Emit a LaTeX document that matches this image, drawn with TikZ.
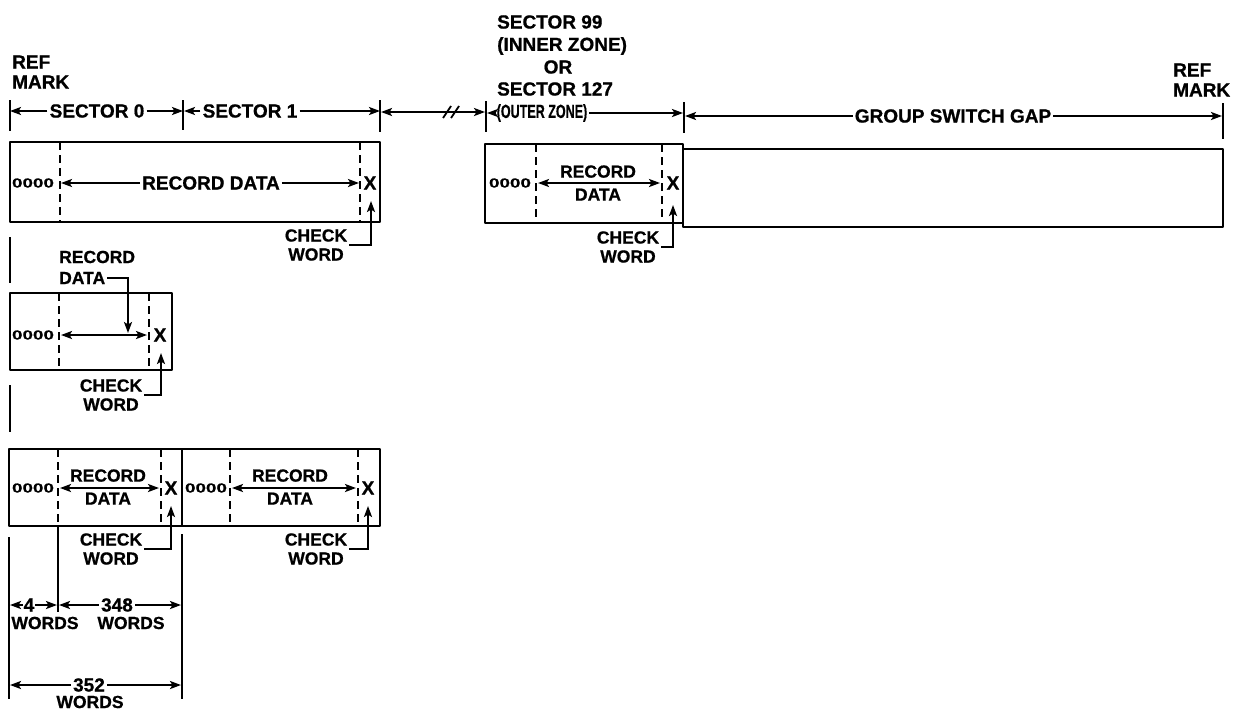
\documentclass[tikz,border=0pt]{standalone}
\usepackage{fontspec}
\setmainfont{Liberation Sans}[BoldFeatures={FakeBold=0.8}]
\usetikzlibrary{arrows.meta}
\newcommand\bigf{\fontsize{19}{20}\selectfont\bfseries}
\newcommand\smf{\fontsize{17.5}{19}\selectfont\bfseries}
\newcommand\zeros{\scalebox{1.45}[1]{\fontsize{13}{13}\selectfont\bfseries 0000}}
\begin{document}
\begin{tikzpicture}[x=1pt,y=-1pt,
  >={Stealth[length=11pt,width=8pt,inset=2.5pt]},
  lbl/.style={font=\bigf,inner xsep=2pt,inner ysep=0pt},
  slbl/.style={font=\smf,inner xsep=2pt,inner ysep=0pt},
  two/.style={align=center,font=\fontsize{17.5}{19}\selectfont\bfseries},
  rd/.style={align=center,font=\fontsize{17.5}{23}\selectfont\bfseries,inner xsep=1pt,inner ysep=0pt},
  box/.style={line width=2.8pt,line join=round},
  dim/.style={line width=2.1pt},
  dsh/.style={line width=2pt,dash pattern=on 8pt off 5pt},
  tick/.style={line width=2.3pt}]
\fill[white] (0,0) rectangle (1237,712);
\useasboundingbox (0,0) rectangle (1237,712);

% ---------- top dimension row ----------
\node[lbl,anchor=west,align=left,font=\fontsize{19}{20}\selectfont\bfseries] (refL) at (10,72) {REF\\MARK};
\node[lbl,anchor=west,align=left,font=\fontsize{19}{20}\selectfont\bfseries] (refR) at (1171,80) {REF\\MARK};

\coordinate (k0a) at (10,100);  \coordinate (k0b) at (10,131);
\coordinate (k1a) at (183,100); \coordinate (k1b) at (183,130);
\coordinate (k2a) at (380,100); \coordinate (k2b) at (380,132);
\coordinate (k3a) at (486,101); \coordinate (k3b) at (486,132);
\coordinate (k4a) at (684,102); \coordinate (k4b) at (684,133);
\coordinate (k5a) at (1223,103); \coordinate (k5b) at (1223,139);
\foreach \k in {0,...,5} \draw[tick] (k\k a) -- (k\k b);

\node[lbl] (s0) at (97,111) {SECTOR 0};
\node[lbl] (s1) at (250,111) {SECTOR 1};
\coordinate (a0) at (10,111);
\coordinate (a1l) at (183,111);
\coordinate (a1r) at (184,111);
\coordinate (a2) at (380,111);
\draw[dim,->] (s0.west) -- (a0);
\draw[dim,->] (s0.east) -- (a1l);
\draw[dim,->] (s1.west) -- (a1r);
\draw[dim,->] (s1.east) -- (a2);

\coordinate (g0) at (381,112);
\coordinate (g1) at (485,112);
\draw[dim,<->] (g0) -- (g1);
\draw[line width=1.8pt] (443,118) -- (451,106) (451,118) -- (459,106);

\node[lbl,anchor=west] (s99a) at (495,22) {SECTOR 99};
\node[lbl,anchor=west] (s99b) at (495,46) {(INNER ZONE)};
\node[lbl] (s99c) at (558,67) {OR};
\node[lbl,anchor=west] (s99d) at (495,89) {SECTOR 127};
\node[lbl] (s99e) at (542,113) {\scalebox{0.66}[1]{(OUTER ZONE)}};
\coordinate (o0) at (487,113);
\coordinate (o1) at (683,113);
\draw[dim,->] (s99e.west) -- (o0);
\draw[dim,->] (s99e.east) -- (o1);

\node[lbl] (gsg) at (953,116) {GROUP SWITCH GAP};
\coordinate (w0) at (685,116);
\coordinate (w1) at (1222,116);
\draw[dim,->] (gsg.west) -- (w0);
\draw[dim,->] (gsg.east) -- (w1);

% ---------- box 1 ----------
\draw[box] (10,142) rectangle (380,222);
\draw[dsh] (60,142) -- (60,222);
\draw[dsh] (360,142) -- (360,222);
\node[inner sep=0pt] (z1) at (33,183) {\zeros};
\node[lbl] (rd1) at (211,183) {RECORD DATA};
\coordinate (r1a) at (61,183);
\coordinate (r1b) at (359,183);
\draw[dim,->] (rd1.west) -- (r1a);
\draw[dim,->] (rd1.east) -- (r1b);
\node[lbl,inner xsep=0pt] (x1) at (370,183) {X};
\node[slbl,two] (ck1) at (316,245) {CHECK\\WORD};
\coordinate (c1) at (371,201);
\draw[dim,->] (ck1.east) -| (c1);

% ---------- box 2 ----------
\draw[box] (485,144) rectangle (683,223);
\draw[dsh] (536,144) -- (536,223);
\draw[dsh] (662,144) -- (662,223);
\node[inner sep=0pt] (z2) at (510,183) {\zeros};
\node[rd] (rd2) at (598,183) {RECORD\\DATA};
\coordinate (r2a) at (538,183);
\coordinate (r2b) at (660,183);
\draw[dim,<->] (r2a) -- (r2b);
\node[lbl,inner xsep=0pt] (x2) at (673,183) {X};
\node[slbl,two] (ck2) at (628,247) {CHECK\\WORD};
\coordinate (c2) at (673,205);
\draw[dim,->] (ck2.east) -| (c2);

% ---------- box 3 (group switch gap) ----------
\draw[box] (683,149) rectangle (1223,227);

% ---------- left reference line pieces ----------
\draw[tick] (10,237) -- (10,283);
\draw[tick] (10,385) -- (10,432);

% ---------- box 4 ----------
\draw[box] (10,293) rectangle (172,370);
\draw[dsh] (59,293) -- (59,370);
\draw[dsh] (149,293) -- (149,370);
\node[inner sep=0pt] (z4) at (33,335) {\zeros};
\coordinate (r4a) at (61,335);
\coordinate (r4b) at (147,335);
\draw[dim,<->] (r4a) -- (r4b);
\node[lbl,inner xsep=0pt] (x4) at (160,335) {X};
\node[slbl,anchor=west] (rd4a) at (57,257) {RECORD};
\node[slbl,anchor=west] (rd4b) at (57,278) {DATA};
\coordinate (d4) at (128,333);
\draw[dim,->] (rd4b.east) -| (d4);
\node[slbl,two] (ck4) at (111,395) {CHECK\\WORD};
\coordinate (c4) at (161,353);
\draw[dim,->] (ck4.east) -| (c4);

% ---------- box 5 ----------
\draw[box] (9,449) rectangle (380,526);
\draw[box] (182,449) -- (182,526);
\draw[dsh] (58,449) -- (58,526);
\draw[dsh] (161,449) -- (161,526);
\draw[dsh] (230,449) -- (230,526);
\draw[dsh] (358,449) -- (358,526);
\node[inner sep=0pt] (z5a) at (33,488) {\zeros};
\node[inner sep=0pt] (z5b) at (206,488) {\zeros};
\node[rd] (rd5a) at (108,487) {RECORD\\DATA};
\node[rd] (rd5b) at (290,487) {RECORD\\DATA};
\coordinate (r5a) at (60,488);
\coordinate (r5b) at (159,488);
\coordinate (r5c) at (232,488);
\coordinate (r5d) at (356,488);
\draw[dim,<->] (r5a) -- (r5b);
\draw[dim,<->] (r5c) -- (r5d);
\node[lbl,inner xsep=0pt] (x5a) at (171,488) {X};
\node[lbl,inner xsep=0pt] (x5b) at (368,488) {X};
\node[slbl,two] (ck5a) at (111,549) {CHECK\\WORD};
\node[slbl,two] (ck5b) at (316,549) {CHECK\\WORD};
\coordinate (c5a) at (171,506);
\coordinate (c5b) at (368,506);
\draw[dim,->] (ck5a.east) -| (c5a);
\draw[dim,->] (ck5b.east) -| (c5b);

% ---------- word-count dimensions ----------
\draw[tick] (9,537) -- (9,699);
\draw[tick] (58,526) -- (58,612);
\draw[tick] (182,534) -- (182,699);

\node[lbl,inner xsep=1pt] (n4) at (29,605) {4};
\node[lbl] (n348) at (117,605) {348};
\coordinate (e0) at (10,605);
\coordinate (e1) at (57,605);
\coordinate (e2) at (59,605);
\coordinate (e3) at (181,605);
\draw[dim,->] (n4.west) -- (e0);
\draw[dim,->] (n4.east) -- (e1);
\draw[dim,->] (n348.west) -- (e2);
\draw[dim,->] (n348.east) -- (e3);
\node[slbl] (wd4) at (45,623) {WORDS};
\node[slbl] (wd348) at (131,623) {WORDS};

\node[lbl] (n352) at (89,685) {352};
\coordinate (f0) at (10,685);
\coordinate (f1) at (181,685);
\draw[dim,->] (n352.west) -- (f0);
\draw[dim,->] (n352.east) -- (f1);
\node[slbl] (wd352) at (90,702) {WORDS};
\end{tikzpicture}
\end{document}
